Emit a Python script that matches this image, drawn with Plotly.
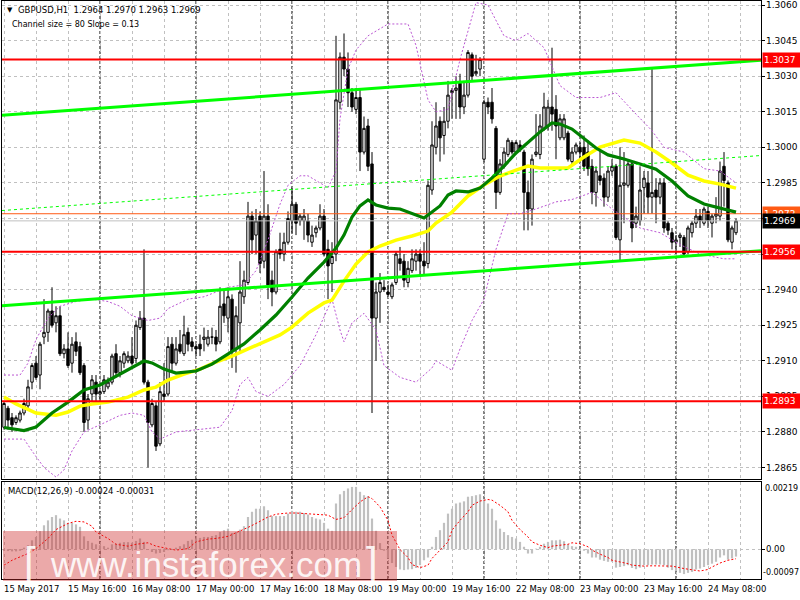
import plotly.graph_objects as go

# ---------------- data ----------------
bar_index = list(range(184))

open_price = [1.2882,1.2890,1.2886,1.2884,1.2885,1.2888,1.2891,1.2901,1.2909,1.2904,
 1.2920,1.2922,1.2931,1.2926,1.2929,1.2913,1.2915,1.2909,1.2918,1.2916,
 1.2908,1.2885,1.2896,1.2901,1.2896,1.2897,1.2899,1.2901,1.2913,1.2905,
 1.2909,1.2910,1.2912,1.2911,1.2924,1.2928,1.2901,1.2883,1.2891,1.2875,
 1.2896,1.2896,1.2917,1.2909,1.2917,1.2913,1.2922,1.2918,1.2916,1.2917,
 1.2919,1.2917,1.2920,1.2920,1.2918,1.2934,1.2928,1.2936,1.2915,1.2926,
 1.2937,1.2943,1.2971,1.2963,1.2971,1.2952,1.2971,1.2944,1.2939,1.2957,
 1.2955,1.2960,1.2969,1.2976,1.2969,1.2969,1.2969,1.2960,1.2964,1.2966,
 1.2971,1.2957,1.2951,1.2955,1.3019,1.3038,1.3033,1.3023,1.3016,1.3021,
 1.2998,1.3009,1.2993,1.2928,1.2939,1.2941,1.2939,1.2937,1.2943,1.2953,
 1.2952,1.2943,1.2948,1.2952,1.2955,1.2952,1.2951,1.2982,1.3000,1.3011,
 1.3005,1.3011,1.3023,1.3024,1.3027,1.3017,1.3022,1.3039,1.3031,1.3033,
 1.2995,1.3019,1.3019,1.3008,1.2981,1.2992,1.2997,1.3002,1.2998,1.3001,
 1.2998,1.2981,1.2974,1.2997,1.2997,1.3008,1.3009,1.3017,1.3016,1.3004,
 1.3004,1.3006,1.2994,1.2998,1.3000,1.3000,1.2998,1.2992,1.2981,1.2988,
 1.2987,1.2979,1.2990,1.2992,1.2961,1.2984,1.2984,1.2993,1.2968,1.2969,
 1.2983,1.2985,1.2979,1.2982,1.2979,1.2985,1.2968,1.2964,1.2960,1.2962,
 1.2962,1.2956,1.2964,1.2968,1.2971,1.2968,1.2973,1.2968,1.2971,1.2971,
 1.2992,1.2985,1.2960,1.2964]

high_price = [1.2893,1.2891,1.2888,1.2887,1.2889,1.2894,1.2902,1.2909,1.2912,1.2918,
 1.2936,1.2932,1.2941,1.2933,1.2933,1.2917,1.2922,1.2920,1.2922,1.2918,
 1.2909,1.2896,1.2904,1.2904,1.2898,1.2904,1.2903,1.2913,1.2917,1.2912,
 1.2914,1.2914,1.2920,1.2927,1.2931,1.2957,1.2902,1.2894,1.2893,1.2901,
 1.2909,1.2920,1.2920,1.2920,1.2923,1.2929,1.2924,1.2920,1.2917,1.2921,
 1.2924,1.2923,1.2924,1.2923,1.2941,1.2940,1.2941,1.2938,1.2933,1.2952,
 1.2948,1.2977,1.2973,1.2974,1.2973,1.2990,1.2976,1.2948,1.2957,1.2964,
 1.2964,1.2973,1.2983,1.2977,1.2972,1.2974,1.2972,1.2967,1.2967,1.2976,
 1.2974,1.2961,1.2960,1.3047,1.3040,1.3048,1.3040,1.3025,1.3025,1.3025,
 1.3013,1.3012,1.2998,1.2943,1.2947,1.2944,1.2942,1.2943,1.2956,1.2958,
 1.2955,1.2952,1.2957,1.2957,1.2957,1.2960,1.2986,1.3011,1.3019,1.3013,
 1.3017,1.3028,1.3025,1.3030,1.3031,1.3028,1.3041,1.3040,1.3039,1.3038,
 1.3020,1.3021,1.3025,1.3009,1.2995,1.3000,1.3004,1.3003,1.3003,1.3003,
 1.2999,1.2986,1.2997,1.3014,1.3014,1.3023,1.3020,1.3042,1.3022,1.3014,
 1.3014,1.3007,1.3000,1.3002,1.3002,1.3005,1.3003,1.2995,1.2992,1.2999,
 1.2989,1.2992,1.2995,1.2993,1.3000,1.2998,1.2995,1.2994,1.2975,1.2992,
 1.2990,1.2990,1.3033,1.2987,1.2987,1.2987,1.2969,1.2966,1.2963,1.2964,
 1.2963,1.2967,1.2969,1.2974,1.2974,1.2975,1.2975,1.2972,1.2979,1.2994,
 1.2998,1.2986,1.2967,1.2970]

low_price = [1.2881,1.2881,1.2880,1.2883,1.2884,1.2887,1.2890,1.2898,1.2902,1.2898,
 1.2917,1.2918,1.2924,1.2922,1.2912,1.2911,1.2907,1.2905,1.2912,1.2904,
 1.2880,1.2881,1.2893,1.2893,1.2893,1.2896,1.2898,1.2900,1.2903,1.2903,
 1.2907,1.2909,1.2908,1.2909,1.2923,1.2900,1.2865,1.2882,1.2872,1.2874,
 1.2893,1.2895,1.2905,1.2908,1.2913,1.2912,1.2914,1.2914,1.2912,1.2912,
 1.2914,1.2916,1.2917,1.2914,1.2917,1.2926,1.2922,1.2907,1.2905,1.2914,
 1.2934,1.2942,1.2955,1.2955,1.2947,1.2949,1.2936,1.2933,1.2938,1.2953,
 1.2952,1.2959,1.2964,1.2963,1.2967,1.2961,1.2960,1.2958,1.2962,1.2965,
 1.2954,1.2936,1.2939,1.2952,1.3016,1.3030,1.3017,1.3015,1.3014,1.2990,
 1.2997,1.2990,1.2888,1.2910,1.2926,1.2939,1.2937,1.2936,1.2942,1.2948,
 1.2941,1.2941,1.2947,1.2948,1.2946,1.2946,1.2949,1.2980,1.2997,1.2994,
 1.2997,1.3008,1.3012,1.3012,1.3012,1.3014,1.3021,1.3028,1.3030,1.3030,
 1.2994,1.3014,1.3010,1.2974,1.2980,1.2991,1.2996,1.2997,1.2997,1.2998,
 1.2965,1.2965,1.2967,1.2996,1.2995,1.3007,1.3007,1.3007,1.2995,1.3003,
 1.3003,1.2994,1.2992,1.2997,1.2995,1.2990,1.2988,1.2976,1.2975,1.2984,
 1.2975,1.2977,1.2988,1.2961,1.2952,1.2968,1.2983,1.2960,1.2966,1.2967,
 1.2972,1.2972,1.2972,1.2968,1.2976,1.2964,1.2963,1.2957,1.2955,1.2958,
 1.2954,1.2955,1.2962,1.2966,1.2966,1.2967,1.2966,1.2962,1.2968,1.2969,
 1.2975,1.2960,1.2957,1.2963]

close_price = [1.2892,1.2885,1.2883,1.2886,1.2888,1.2892,1.2899,1.2908,1.2903,1.2917,
 1.2922,1.2931,1.2925,1.2929,1.2913,1.2915,1.2908,1.2917,1.2914,1.2905,
 1.2884,1.2894,1.2902,1.2896,1.2897,1.2902,1.2901,1.2912,1.2905,1.2910,
 1.2913,1.2912,1.2909,1.2925,1.2928,1.2901,1.2884,1.2892,1.2874,1.2897,
 1.2895,1.2916,1.2909,1.2915,1.2914,1.2921,1.2917,1.2916,1.2915,1.2915,
 1.2920,1.2920,1.2920,1.2917,1.2933,1.2929,1.2937,1.2914,1.2929,1.2939,
 1.2944,1.2971,1.2961,1.2969,1.2951,1.2971,1.2942,1.2939,1.2956,1.2955,
 1.2960,1.2970,1.2976,1.2968,1.2971,1.2971,1.2963,1.2963,1.2966,1.2971,
 1.2955,1.2950,1.2954,1.3020,1.3038,1.3033,1.3023,1.3017,1.3021,1.2998,
 1.3008,1.2992,1.2928,1.2939,1.2943,1.2940,1.2938,1.2942,1.2955,1.2951,
 1.2944,1.2949,1.2953,1.2955,1.2952,1.2950,1.2984,1.3001,1.3009,1.3004,
 1.3011,1.3022,1.3024,1.3025,1.3017,1.3022,1.3040,1.3030,1.3032,1.3037,
 1.3019,1.3017,1.3012,1.2981,1.2993,1.2998,1.3003,1.2998,1.3002,1.2999,
 1.2981,1.2974,1.2995,1.2998,1.3009,1.3017,1.3017,1.3014,1.3009,1.3012,
 1.3012,1.2995,1.2998,1.3001,1.2998,1.2992,1.2991,1.2981,1.2990,1.2986,
 1.2979,1.2990,1.2992,1.2962,1.2984,1.2985,1.2993,1.2966,1.2971,1.2982,
 1.2987,1.2979,1.2981,1.2979,1.2985,1.2966,1.2965,1.2960,1.2961,1.2963,
 1.2955,1.2966,1.2968,1.2971,1.2969,1.2974,1.2969,1.2971,1.2972,1.2990,
 1.2986,1.2961,1.2966,1.2969]

ma_green_x = [0,5,8,12,16,20,24,28,32,35,37,40,43,48,52,56,60,64,68,72,76,80,83,85,87,89,91,93,96,99,
              103,105,107,109,111,113,116,119,122,125,128,131,134,137,139,142,145,148,151,155,159,163,167,171,175,179,183]
ma_green = [1.28819,1.28806,1.28821,1.28880,1.28926,1.28977,1.28998,1.29036,1.29074,1.29099,
            1.29091,1.29065,1.29048,1.29057,1.29086,1.29128,1.29171,1.29230,1.29293,1.29369,
            1.29449,1.29516,1.29575,1.29630,1.29706,1.29753,1.29778,1.29757,1.29744,1.29740,
            1.29715,1.29702,1.29727,1.29753,1.29799,1.29816,1.29812,1.29828,1.29871,1.29921,
            1.29976,1.30022,1.30065,1.30103,1.30098,1.30077,1.30039,1.29997,1.29968,1.29951,
            1.29930,1.29908,1.29858,1.29795,1.29761,1.29744,1.29727]

ma_yellow_x = [0,3,8,13,16,19,22,26,31,35,38,41,45,49,53,57,61,65,69,72,76,80,82,85,88,91,94,98,102,106,
               108,112,116,120,124,128,131,134,138,141,145,149,155,159,163,167,171,175,179,183]
ma_yellow = [1.28947,1.28918,1.28880,1.28871,1.28884,1.28909,1.28918,1.28926,1.28947,1.28977,
             1.28989,1.29019,1.29044,1.29065,1.29095,1.29120,1.29150,1.29179,1.29209,1.29242,
             1.29301,1.29344,1.29356,1.29436,1.29508,1.29559,1.29584,1.29609,1.29626,1.29647,
             1.29681,1.29727,1.29795,1.29841,1.29879,1.29904,1.29921,1.29913,1.29913,1.29913,
             1.29959,1.30001,1.30031,1.30018,1.29980,1.29934,1.29883,1.29858,1.29845,1.29828]

band_upper_x = [0,4,6,8,11,14,18,22,26,29,32,36,39,41,46,50,56,60,63,66,69,71,74,76,79,81,83,84,86,88,
                91,96,101,103,106,108,111,114,118,121,125,128,131,135,139,143,149,153,158,162,165,170,175,179,183]
band_upper = [1.2904,1.2904,1.2909,1.2919,1.2928,1.2933,1.2935,1.2936,1.2935,1.2933,
              1.2929,1.2927,1.2928,1.2932,1.2936,1.2937,1.2941,1.2942,1.2948,1.2961,
              1.2976,1.2984,1.2988,1.2988,1.2985,1.2983,1.2990,1.3012,1.3033,1.3041,
              1.3047,1.3052,1.3052,1.3043,1.3020,1.3015,1.3016,1.3037,1.3061,1.3060,
              1.3047,1.3045,1.3048,1.3042,1.3026,1.3021,1.3021,1.3023,1.3014,1.3007,
              1.3000,1.2998,1.2991,1.2990,1.2985]

band_lower_x = [0,5,7,10,13,15,17,20,24,29,32,35,37,39,43,48,54,57,59,61,63,66,70,74,78,82,84,85,87,90,
                93,95,99,103,107,108,112,114,117,120,123,126,129,133,138,142,147,152,159,164,169,174,180,183]
band_lower = [1.2877,1.2877,1.2872,1.2865,1.2861,1.2864,1.2872,1.2880,1.2883,1.2887,
              1.2888,1.2887,1.2880,1.2877,1.2880,1.2881,1.2882,1.2889,1.2900,1.2903,
              1.2897,1.2895,1.2900,1.2908,1.2921,1.2936,1.2923,1.2918,1.2926,1.2930,
              1.2923,1.2908,1.2903,1.2901,1.2907,1.2910,1.2906,1.2915,1.2927,1.2936,
              1.2957,1.2972,1.2972,1.2974,1.2977,1.2978,1.2981,1.2974,1.2966,1.2964,
              1.2959,1.2955,1.2953,1.2953]

macd_hist = [-0.00005,-0.00006,-0.00007,-0.00007,-0.00005,0.00005,0.00013,0.00029,0.00040,0.00059,
 0.00078,0.00094,0.00105,0.00111,0.00100,0.00094,0.00086,0.00086,0.00081,0.00073,
 0.00042,0.00027,0.00021,0.00016,0.00013,0.00010,0.00005,0.00016,0.00018,0.00021,
 0.00023,0.00023,0.00021,0.00027,0.00035,0.00024,-0.00001,-0.00009,-0.00014,-0.00012,
 -0.00009,-0.00003,0.00001,0.00005,0.00010,0.00016,0.00027,0.00031,0.00035,0.00037,
 0.00040,0.00040,0.00043,0.00046,0.00056,0.00062,0.00067,0.00053,0.00056,0.00064,
 0.00075,0.00105,0.00122,0.00132,0.00132,0.00140,0.00127,0.00108,0.00108,0.00108,
 0.00108,0.00116,0.00125,0.00122,0.00122,0.00118,0.00113,0.00105,0.00100,0.00097,
 0.00086,0.00067,0.00060,0.00149,0.00179,0.00190,0.00198,0.00203,0.00203,0.00187,
 0.00176,0.00173,0.00100,0.00060,0.00020,-0.00005,-0.00030,-0.00045,-0.00058,-0.00066,
 -0.00068,-0.00066,-0.00065,-0.00061,-0.00052,-0.00036,-0.00027,0.00008,0.00040,0.00062,
 0.00086,0.00116,0.00132,0.00149,0.00152,0.00156,0.00171,0.00173,0.00176,0.00179,
 0.00162,0.00149,0.00132,0.00094,0.00067,0.00056,0.00046,0.00040,0.00035,0.00024,
 0.00008,-0.00014,-0.00014,0.00002,0.00008,0.00018,0.00024,0.00029,0.00029,0.00031,
 0.00026,0.00016,0.00010,0.00008,-0.00001,-0.00005,-0.00014,-0.00027,-0.00027,-0.00034,
 -0.00038,-0.00041,-0.00041,-0.00060,-0.00058,-0.00055,-0.00052,-0.00061,-0.00065,-0.00060,
 -0.00052,-0.00052,-0.00050,-0.00050,-0.00050,-0.00052,-0.00060,-0.00068,-0.00071,-0.00077,
 -0.00081,-0.00077,-0.00074,-0.00066,-0.00063,-0.00058,-0.00052,-0.00047,-0.00041,-0.00027,
 -0.00020,-0.00034,-0.00030,-0.00024]

macd_signal_x = [0,2,6,8,11,13,16,18,20,22,23,26,28,31,33,36,38,41,43,46,48,51,53,56,58,61,63,66,68,71,
                 73,76,78,81,83,85,87,89,91,92,94,96,97,99,101,102,104,106,107,109,111,112,114,116,117,119,
                 121,122,124,126,127,129,131,132,134,136,137,139,141,142,144,146,147,149,151,152,154,156,157,
                 160,162,165,167,170,172,174,176,177,179,181,183]
macd_signal = [-0.00052,-0.00036,-0.00014,0.00002,0.00035,0.00064,0.00084,0.00091,0.00089,0.00075,
               0.00056,0.00035,0.00016,0.00010,0.00016,0.00021,0.00010,0.00002,-0.00003,0.00002,
               0.00024,0.00033,0.00035,0.00042,0.00053,0.00071,0.00084,0.00105,0.00114,0.00118,
               0.00118,0.00116,0.00113,0.00111,0.00097,0.00103,0.00129,0.00154,0.00171,0.00165,
               0.00138,0.00094,0.00046,-0.00001,-0.00027,-0.00050,-0.00060,-0.00052,-0.00030,-0.00003,
               0.00024,0.00062,0.00094,0.00122,0.00143,0.00157,0.00162,0.00160,0.00143,0.00122,
               0.00094,0.00064,0.00040,0.00024,0.00013,0.00005,0.00010,0.00013,0.00016,0.00021,
               0.00018,0.00008,-0.00003,-0.00016,-0.00027,-0.00036,-0.00041,-0.00047,-0.00052,-0.00055,
               -0.00054,-0.00054,-0.00055,-0.00063,-0.00068,-0.00071,-0.00066,-0.00058,-0.00045,-0.00036,
               -0.00031]

red_levels = [1.3037, 1.2956, 1.2893]
ask_level = 1.2972
bid_level = 1.2969
channel_upper = [1.30135, 1.30367]
channel_middle = [1.297335, 1.299655]
channel_lower = [1.29332, 1.29564]

price_ticks = [1.3060,1.3045,1.3030,1.3015,1.3000,1.2985,1.2970,1.2955,1.2940,1.2925,1.2910,1.2895,1.2880,1.2865]
macd_scale = [0.00219, 0.0, -0.00097]
time_label_bars = [0,16,32,48,64,80,96,112,128,144,160,176]
time_labels = ["15 May 2017","15 May 16:00","16 May 08:00","17 May 00:00","17 May 16:00","18 May 08:00",
               "19 May 00:00","19 May 16:00","22 May 08:00","23 May 00:00","23 May 16:00","24 May 08:00"]
day_separator_bars = [24,48,72,96,120,144,168]

# ---------------- layout helpers ----------------
W, H = 800, 600
ML, MR, MT, MB = 2, 39, 1, 21
PW, PH = W - ML - MR, H - MT - MB


def px(x):
    return (x - ML) / PW


def py(y):
    return (H - MB - y) / PH


X_RANGE = [-0.5, 189.25]
Y_RANGE = [1.286017, 1.306169]
GRID = "#C0C0C0"
FONT = "DejaVu Sans"

fig = go.Figure()


def level_line(y, color, width, dash="solid"):
    fig.add_trace(go.Scatter(x=X_RANGE, y=[y, y], mode="lines", hoverinfo="skip",
                             line=dict(color=color, width=width, dash=dash), xaxis="x", yaxis="y"))


level_line(bid_level, "#C0C0C0", 1)
level_line(ask_level, "#FF5A14", 1)

fig.add_trace(go.Candlestick(
    x=bar_index, open=open_price, high=high_price, low=low_price, close=close_price,
    increasing=dict(fillcolor="white", line=dict(color="black", width=1)),
    decreasing=dict(fillcolor="black", line=dict(color="black", width=1)),
    whiskerwidth=0, hoverinfo="skip", xaxis="x", yaxis="y"))

for bx, by in [(band_upper_x, band_upper), (band_lower_x, band_lower)]:
    fig.add_trace(go.Scatter(x=bx, y=by, mode="lines", hoverinfo="skip",
                             line=dict(color="#BA55D3", width=1, dash="2px,2px"), xaxis="x", yaxis="y"))

fig.add_trace(go.Scatter(x=ma_yellow_x, y=ma_yellow, mode="lines", hoverinfo="skip",
                         line=dict(color="#FFFF00", width=3.5), xaxis="x", yaxis="y"))
fig.add_trace(go.Scatter(x=ma_green_x, y=ma_green, mode="lines", hoverinfo="skip",
                         line=dict(color="#008000", width=3.2), xaxis="x", yaxis="y"))

fig.add_trace(go.Scatter(x=X_RANGE, y=channel_upper, mode="lines", hoverinfo="skip",
                         line=dict(color="#00FF00", width=3), xaxis="x", yaxis="y"))
fig.add_trace(go.Scatter(x=X_RANGE, y=channel_middle, mode="lines", hoverinfo="skip",
                         line=dict(color="#00FF00", width=1, dash="3px,3px"), xaxis="x", yaxis="y"))
fig.add_trace(go.Scatter(x=X_RANGE, y=channel_lower, mode="lines", hoverinfo="skip",
                         line=dict(color="#00FF00", width=3), xaxis="x", yaxis="y"))

for lv in red_levels:
    level_line(lv, "#FF0000", 2)

fig.add_trace(go.Bar(x=bar_index, y=macd_hist, width=0.55, marker=dict(color="#C0C0C0", line=dict(width=0)),
                     hoverinfo="skip", xaxis="x2", yaxis="y2"))
fig.add_trace(go.Scatter(x=macd_signal_x, y=macd_signal, mode="lines", hoverinfo="skip",
                         line=dict(color="#FF0000", width=1, dash="2px,2px"), xaxis="x2", yaxis="y2"))

axis_common = dict(showgrid=True, gridcolor=GRID, griddash="3px,3px", gridwidth=1, zeroline=False,
                   showline=True, linecolor="black", linewidth=1, mirror=True, fixedrange=True)

fig.update_layout(
    width=W, height=H, margin=dict(l=ML, r=MR, t=MT, b=MB),
    paper_bgcolor="white", plot_bgcolor="white", showlegend=False, hovermode=False,
    font=dict(family=FONT, size=9, color="black"), boxgap=0.15,
    xaxis=dict(domain=[0, 1], range=X_RANGE, anchor="y", showticklabels=False, ticks="",
               tick0=0, dtick=8, rangeslider=dict(visible=False), **axis_common),
    yaxis=dict(domain=[py(479), 1], range=Y_RANGE, anchor="x", side="right",
               tickvals=price_ticks, showticklabels=False,
               ticks="outside", ticklen=3, tickcolor="black", **axis_common),
    xaxis2=dict(domain=[0, 1], range=X_RANGE, anchor="y2", showticklabels=False, ticks="",
                tick0=0, dtick=8, rangeslider=dict(visible=False), **axis_common),
    yaxis2=dict(domain=[0, py(482)], range=[macd_scale[2], macd_scale[0]], anchor="x2", side="right",
                tickvals=[macd_scale[1]], showticklabels=False, ticks="outside", ticklen=3,
                tickcolor="black", **axis_common),
)

shapes = []
for b in day_separator_bars:
    for yr in ["y", "y2"]:
        lo, hi = (Y_RANGE if yr == "y" else [macd_scale[2], macd_scale[0]])
        shapes.append(dict(type="line", xref="x", yref=yr, x0=b, x1=b, y0=lo, y1=hi, layer="below",
                           line=dict(color="black", width=1, dash="3px,2px")))
shapes.append(dict(type="rect", xref="paper", yref="paper", x0=px(3), x1=px(397), y0=py(581), y1=py(531),
                   fillcolor="rgba(205,40,40,0.40)", line=dict(width=0), layer="above"))
fig.update_layout(shapes=shapes)

ann = []
# header texts
ann.append(dict(x=px(9.5), y=py(10), xref="paper", yref="paper", text="▼", showarrow=False,
                xanchor="center", yanchor="middle", font=dict(family=FONT, size=7, color="black")))
ann.append(dict(x=px(16), y=py(10), xref="paper", yref="paper", showarrow=False, xanchor="left", yanchor="middle",
                text=f"GBPUSD,H1\u00a0\u00a0{open_price[-1]:.4f} {high_price[-1]:.4f} {low_price[-1]:.4f} {close_price[-1]:.4f}",
                font=dict(family=FONT, size=8.5, color="black")))
ann.append(dict(x=px(10), y=py(24), xref="paper", yref="paper", showarrow=False, xanchor="left", yanchor="middle",
                text="Channel size = 80 Slope = 0.13", font=dict(family=FONT, size=8, color="black")))
ann.append(dict(x=px(6), y=py(490.5), xref="paper", yref="paper", showarrow=False, xanchor="left", yanchor="middle",
                text=f"MACD(12,26,9) {macd_hist[-1]:.5f} {macd_signal[-1]:.5f}",
                font=dict(family=FONT, size=8.5, color="black")))

# time labels
for b, t in zip(time_label_bars, time_labels):
    ann.append(dict(x=b, xref="x", y=py(588.5), yref="paper", text=t, showarrow=False, xanchor="left",
                    yanchor="middle", xshift=-2, font=dict(family=FONT, size=8.5, color="black")))

# price scale labels (the ones fully hidden under a level box are not shown, as in the terminal)
box_levels = red_levels + [ask_level, bid_level]
for v in price_ticks:
    if any(abs(v - lv) < 0.00015 for lv in box_levels):
        continue
    ann.append(dict(x=1, xref="paper", xshift=3, y=v, yref="y", xanchor="left", yanchor="middle",
                    text=f"{v:.4f}", showarrow=False, font=dict(family=FONT, size=9, color="black")))

# MACD scale labels
ann.append(dict(x=1, xref="paper", xshift=2, y=macd_scale[0], yref="y2", yanchor="top", xanchor="left",
                text=f"{macd_scale[0]:.5f}", showarrow=False, font=dict(family=FONT, size=8, color="black")))
ann.append(dict(x=1, xref="paper", xshift=3, y=macd_scale[1], yref="y2", yanchor="middle", xanchor="left",
                text=f"{macd_scale[1]:.2f}", showarrow=False, font=dict(family=FONT, size=8.5, color="black")))
ann.append(dict(x=1, xref="paper", xshift=0, y=macd_scale[2], yref="y2", yanchor="bottom", xanchor="left",
                text=f"{macd_scale[2]:.5f}", showarrow=False, font=dict(family=FONT, size=8, color="black")))


def price_box(level, bg):
    return dict(x=1, xref="paper", xshift=1, y=level, yref="y", xanchor="left", yanchor="middle",
                text=f"{level:.4f}", showarrow=False, bgcolor=bg, width=36, height=12, borderpad=1,
                align="left", font=dict(family=FONT, size=9, color="white"))


ann.append(price_box(ask_level, "#FF5A14"))
ann.append(price_box(bid_level, "black"))
for lv in red_levels:
    ann.append(price_box(lv, "#FF0000"))

# watermark
wm_font = dict(family="Liberation Sans, Arial", size=35, color="rgba(255,255,255,0.88)")
ann.append(dict(x=px(30), y=py(562), xref="paper", yref="paper", text="[", showarrow=False,
                xanchor="center", yanchor="middle", font=dict(wm_font, size=42)))
ann.append(dict(x=px(206), y=py(564), xref="paper", yref="paper", text="www.instaforex.com", showarrow=False,
                xanchor="center", yanchor="middle", font=wm_font))
ann.append(dict(x=px(372), y=py(562), xref="paper", yref="paper", text="]", showarrow=False,
                xanchor="center", yanchor="middle", font=dict(wm_font, size=42)))

fig.update_layout(annotations=ann)

fig.write_html("out.html", config={"displayModeBar": False, "staticPlot": True},
               post_script="document.body.style.margin='0';document.body.style.padding='0';")
